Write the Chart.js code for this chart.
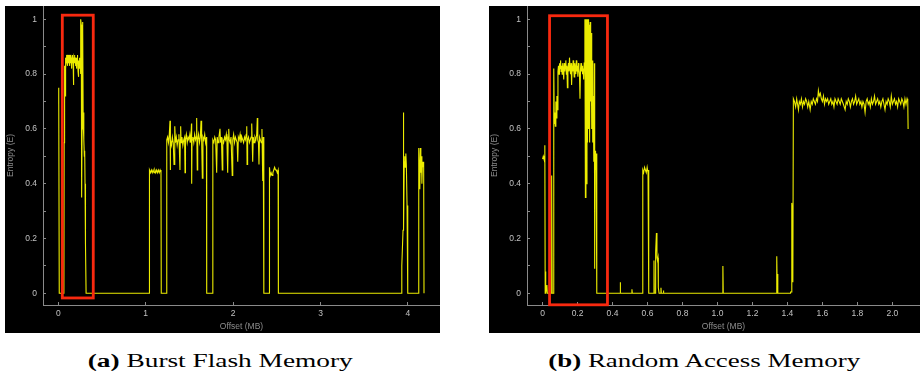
<!DOCTYPE html>
<html>
<head>
<meta charset="utf-8">
<script src="https://cdn.jsdelivr.net/npm/chart.js"></script>
<style>
  body { margin: 0; width: 920px; height: 375px; background: #fff; position: relative; overflow: hidden; }
  canvas { position: absolute; top: 6px; background: #000; }
  #flashChart { left: 5px; }
  #ramChart { left: 489px; }
  .cap { position: absolute; top: 352px; font-family: "Liberation Serif", "DejaVu Serif", serif; font-size: 18px; line-height: 18px; white-space: nowrap; color: #000; transform-origin: 50% 50%; }
  .cap b { font-weight: bold; }
</style>
</head>
<body>
<canvas id="flashChart" width="435" height="327"></canvas>
<canvas id="ramChart" width="431" height="327"></canvas>
<div class="cap" id="capA" data-cx="220.5" data-w="265"><b>(a)</b> Burst Flash Memory</div>
<div class="cap" id="capB" data-cx="704" data-w="312"><b>(b)</b> Random Access Memory</div>
<script>
// Burst Flash Memory: offset (MB) vs entropy
const flashOffset = [
  0, 0.002, 0.004, 0.006, 0.008, 0.011,
  0.064, 0.067, 0.069, 0.071, 0.073, 0.075, 0.077, 0.079, 0.082, 0.085,
  0.088, 0.091, 0.094, 0.097, 0.100, 0.103, 0.106, 0.109, 0.112, 0.115, 0.118, 0.121, 0.124, 0.127, 0.130, 0.133, 0.136, 0.139, 0.142, 0.145,
  0.148, 0.151, 0.154, 0.157, 0.160, 0.163, 0.166, 0.169, 0.172, 0.175, 0.178, 0.181, 0.184, 0.187, 0.190, 0.193, 0.196, 0.199, 0.202, 0.205,
  0.208, 0.211, 0.214, 0.217, 0.220, 0.223, 0.226, 0.229, 0.232, 0.235, 0.238, 0.241, 0.244, 0.247, 0.250, 0.253, 0.256,
  0.259, 0.263, 0.267, 0.272, 0.277, 0.281, 0.285, 0.290, 0.294, 0.298, 0.302, 0.306, 0.309, 0.313, 0.318,
  1.040, 1.043, 1.055, 1.065, 1.075, 1.085, 1.095, 1.105, 1.115, 1.125, 1.135, 1.145, 1.155, 1.165, 1.175, 1.178, 1.238,
  1.241, 1.250, 1.260, 1.270, 1.278, 1.280, 1.285, 1.295, 1.305, 1.315,
  1.324, 1.330, 1.335, 1.340, 1.350, 1.360, 1.370, 1.380, 1.392, 1.396,
  1.400, 1.405, 1.415, 1.425, 1.435, 1.445, 1.450, 1.455, 1.465, 1.475,
  1.485, 1.495, 1.505, 1.515, 1.524, 1.526, 1.530, 1.540, 1.550, 1.560,
  1.570, 1.578, 1.583, 1.590, 1.595, 1.605, 1.615, 1.625, 1.633, 1.640,
  1.648, 1.655, 1.665, 1.675, 1.685, 1.695, 1.698, 1.765,
  1.768, 1.780, 1.790, 1.800, 1.812, 1.818, 1.828, 1.838, 1.850, 1.856,
  1.866, 1.876, 1.882, 1.892, 1.902, 1.912, 1.922, 1.930, 1.938, 1.944,
  1.950, 1.956, 1.966, 1.976, 1.990, 1.996, 2.006, 2.016, 2.026, 2.036,
  2.046, 2.053, 2.060, 2.070, 2.080, 2.090, 2.100, 2.110, 2.120, 2.130,
  2.140, 2.150, 2.156, 2.160, 2.166, 2.176, 2.186, 2.196, 2.206, 2.213,
  2.218, 2.224, 2.230, 2.240, 2.250, 2.260, 2.270, 2.277, 2.282, 2.290,
  2.296, 2.302, 2.312, 2.322, 2.330, 2.339, 2.345, 2.350, 2.353, 2.413,
  2.416, 2.425, 2.435, 2.445, 2.455, 2.465, 2.475, 2.485, 2.495, 2.505, 2.515, 2.518,
  3.928, 3.930, 3.944, 3.948, 3.952, 3.958, 3.964, 3.970, 3.976, 3.982, 3.990, 3.996, 4.000,
  4.120, 4.124, 4.130, 4.136, 4.142, 4.148, 4.154, 4.160, 4.166, 4.172, 4.180, 4.184
];
const flashEntropy = [
  0.69, 0.75, 0.71, 0.74, 0.73, 0,
  0, 0.55, 0.63, 0.78, 0.66, 0.83, 0.72, 0.84, 0.80, 0.86,
  0.82, 0.86, 0.84, 0.87, 0.85, 0.86, 0.83, 0.87, 0.85, 0.86, 0.84, 0.87, 0.85, 0.86, 0.83, 0.87, 0.85, 0.86, 0.84, 0.87,
  0.86, 0.85, 0.82, 0.86, 0.84, 0.87, 0.85, 0.86, 0.80, 0.76, 0.84, 0.86, 0.85, 0.87, 0.84, 0.86, 0.85, 0.83, 0.86, 0.84,
  0.82, 0.86, 0.85, 0.87, 0.84, 0.86, 0.81, 0.85, 0.79, 0.84, 0.83, 0.86, 0.85, 0.82, 0.84, 0.80, 0.84,
  1.00, 0.98, 0.35, 0.60, 0.99, 0.97, 0.62, 0.66, 0.56, 0.50, 0.52, 0.40, 0.28, 0.18, 0,
  0, 0.45, 0.44, 0.45, 0.44, 0.45, 0.44, 0.45, 0.44, 0.45, 0.44, 0.45, 0.44, 0.45, 0.44, 0, 0,
  0.56, 0.57, 0.55, 0.58, 0.63, 0.45, 0.56, 0.54, 0.57, 0.55,
  0.47, 0.57, 0.61, 0.55, 0.57, 0.54, 0.56, 0.58, 0.45, 0.56,
  0.61, 0.55, 0.57, 0.54, 0.56, 0.57, 0.44, 0.56, 0.58, 0.55,
  0.57, 0.56, 0.58, 0.55, 0.62, 0.40, 0.56, 0.57, 0.55, 0.58,
  0.56, 0.57, 0.64, 0.45, 0.56, 0.58, 0.55, 0.57, 0.63, 0.56,
  0.42, 0.57, 0.56, 0.58, 0.55, 0.57, 0, 0,
  0.56, 0.55, 0.57, 0.56, 0.44, 0.57, 0.55, 0.57, 0.60, 0.55,
  0.57, 0.45, 0.56, 0.55, 0.57, 0.56, 0.58, 0.55, 0.44, 0.57,
  0.60, 0.56, 0.55, 0.57, 0.43, 0.56, 0.58, 0.55, 0.57, 0.56,
  0.55, 0.48, 0.57, 0.56, 0.58, 0.55, 0.57, 0.56, 0.55, 0.57,
  0.56, 0.58, 0.61, 0.47, 0.56, 0.57, 0.55, 0.56, 0.57, 0.62,
  0.56, 0.48, 0.57, 0.55, 0.57, 0.56, 0.58, 0.64, 0.56, 0.55,
  0.47, 0.57, 0.56, 0.55, 0.60, 0.41, 0.57, 0.56, 0, 0,
  0.46, 0.43, 0.44, 0.43, 0.44, 0.45, 0.46, 0.45, 0.45, 0.44, 0.45, 0,
  0, 0.10, 0.23, 0.66, 0.23, 0.48, 0.50, 0.46, 0.51, 0.47, 0.32, 0.30, 0,
  0, 0.53, 0.45, 0.38, 0.53, 0.44, 0.50, 0.40, 0.48, 0.46, 0.48, 0
];

// Random Access Memory: offset (MB) vs entropy
const ramOffset = [
  0, 0.004, 0.008, 0.011, 0.013, 0.015, 0.017, 0.019, 0.025, 0.027,
  0.050, 0.052, 0.055, 0.062, 0.064, 0.067, 0.070, 0.073, 0.076, 0.079,
  0.082, 0.085, 0.088, 0.091, 0.094, 0.097, 0.100, 0.103, 0.106, 0.109,
  0.112, 0.115, 0.118, 0.121, 0.124, 0.127, 0.130, 0.133, 0.136, 0.139,
  0.142, 0.145, 0.148, 0.151, 0.154, 0.157, 0.160, 0.163, 0.166, 0.169,
  0.172, 0.175, 0.178, 0.181, 0.184, 0.187, 0.190, 0.193, 0.196, 0.199,
  0.202, 0.205, 0.208, 0.211, 0.214, 0.217, 0.220, 0.223, 0.226, 0.229,
  0.232, 0.235, 0.238, 0.242, 0.245, 0.248, 0.251, 0.254, 0.257, 0.260,
  0.263, 0.266, 0.269, 0.272, 0.275, 0.278, 0.281, 0.284, 0.287, 0.290,
  0.293, 0.296, 0.298, 0.300, 0.303, 0.306, 0.309, 0.311, 0.443, 0.444,
  0.446, 0.510, 0.511, 0.513, 0.571, 0.573, 0.578, 0.583, 0.588, 0.593,
  0.598, 0.603, 0.606, 0.608, 0.636, 0.637, 0.639, 0.643, 0.645, 0.648,
  0.651, 0.654, 0.657, 0.660, 0.662, 0.666, 0.676, 0.677, 0.679, 0.690,
  0.691, 0.693, 1.030, 1.031, 1.033, 1.338, 1.339, 1.342, 1.344, 1.346,
  1.415, 1.418, 1.423, 1.425, 1.428, 1.431, 1.434, 1.440, 1.447, 1.453,
  1.458, 1.463, 1.468, 1.474, 1.480, 1.486, 1.492, 1.498, 1.504, 1.510,
  1.516, 1.522, 1.530, 1.536, 1.542, 1.548, 1.554, 1.560, 1.566, 1.572,
  1.577, 1.582, 1.588, 1.594, 1.600, 1.606, 1.612, 1.618, 1.624, 1.630,
  1.636, 1.642, 1.648, 1.654, 1.660, 1.666, 1.672, 1.678, 1.684, 1.690,
  1.696, 1.702, 1.708, 1.714, 1.720, 1.730, 1.736, 1.742, 1.748, 1.754,
  1.760, 1.766, 1.772, 1.778, 1.784, 1.790, 1.796, 1.802, 1.808, 1.814,
  1.820, 1.826, 1.832, 1.838, 1.844, 1.850, 1.856, 1.862, 1.868, 1.874,
  1.880, 1.886, 1.892, 1.898, 1.904, 1.910, 1.916, 1.922, 1.928, 1.934,
  1.940, 1.946, 1.952, 1.958, 1.964, 1.970, 1.976, 1.982, 1.988, 1.994,
  2.000, 2.006, 2.012, 2.018, 2.024, 2.030, 2.036, 2.042, 2.048, 2.054,
  2.060, 2.066, 2.072, 2.078, 2.084, 2.088, 2.090
];
const ramEntropy = [
  0.49, 0.50, 0.49, 0.50, 0.54, 0, 0.08, 0, 0.03, 0,
  0, 0.43, 0, 0, 0.82, 0.62, 0.66, 0.61, 0.70, 0.64,
  0.72, 0.67, 0.81, 0.83, 0.80, 0.84, 0.82, 0.85, 0.81, 0.83,
  0.80, 0.84, 0.82, 0.78, 0.84, 0.81, 0.83, 0.85, 0.80, 0.83,
  0.75, 0.82, 0.84, 0.81, 0.86, 0.82, 0.80, 0.84, 0.76, 0.83,
  0.81, 0.85, 0.82, 0.79, 0.84, 0.82, 0.80, 0.85, 0.81, 0.83,
  0.79, 0.84, 0.82, 0.80, 0.71, 0.82, 0.84, 0.81, 0.83, 0.80,
  0.82, 0.78, 0.84, 1.00, 0.35, 1.00, 0.40, 1.00, 0.55, 1.00,
  0.60, 0.98, 0.55, 0.99, 0.70, 0.95, 0.60, 0.85, 0.55, 0.72,
  0.48, 0.84, 0.09, 0.52, 0.45, 0.51, 0.46, 0, 0, 0.04,
  0, 0, 0.015, 0, 0, 0.45, 0.44, 0.46, 0.45, 0.44,
  0.46, 0.44, 0.45, 0, 0, 0.12, 0, 0, 0.10, 0.15,
  0.22, 0.13, 0.12, 0.13, 0.02, 0, 0, 0.02, 0, 0,
  0.01, 0, 0, 0.10, 0, 0, 0.135, 0, 0.07, 0,
  0, 0.005, 0.005, 0.33, 0.30, 0.04, 0.71, 0.70, 0.68, 0.71,
  0.69, 0.67, 0.70, 0.69, 0.71, 0.68, 0.70, 0.69, 0.71, 0.70,
  0.68, 0.70, 0.67, 0.70, 0.69, 0.71, 0.70, 0.69, 0.71, 0.70,
  0.74, 0.72, 0.73, 0.71, 0.70, 0.72, 0.69, 0.71, 0.70, 0.71,
  0.69, 0.70, 0.71, 0.69, 0.70, 0.68, 0.71, 0.70, 0.69, 0.71,
  0.70, 0.69, 0.71, 0.70, 0.69, 0.67, 0.70, 0.69, 0.71, 0.70,
  0.68, 0.70, 0.71, 0.69, 0.70, 0.72, 0.69, 0.70, 0.71, 0.69,
  0.70, 0.68, 0.70, 0.69, 0.66, 0.70, 0.71, 0.69, 0.70, 0.68,
  0.71, 0.69, 0.70, 0.72, 0.69, 0.70, 0.71, 0.69, 0.70, 0.68,
  0.70, 0.71, 0.69, 0.67, 0.70, 0.69, 0.71, 0.70, 0.68, 0.72,
  0.69, 0.70, 0.71, 0.69, 0.70, 0.68, 0.71, 0.70, 0.69, 0.71,
  0.70, 0.68, 0.71, 0.69, 0.71, 0.70, 0.60
];

// highlighted regions [xFrom, xTo, yFrom, yTo] in data units
const flashHighlight = [0.046, 0.400, -0.017, 1.015];
const ramHighlight = [0.040, 0.371, -0.042, 1.013];

// axis ranges
const flashXRange = [-0.175, 4.367];
const ramXRange = [-0.089, 2.158];
const entropyRange = [-0.0427, 1.0485];

const LINE = '#ecec00';
const AXIS = '#8a8a8a';
const TICK_TXT = '#c2c2c2';
const TITLE_TXT = '#8c8c8c';
const FONT = { family: '"Liberation Sans", Arial, sans-serif', size: 8.5 };

const highlightBox = {
  id: 'highlightBox',
  afterDatasetsDraw(chart, args, opts) {
    const { ctx, scales: { x, y } } = chart;
    const b = opts.box;
    const l = x.getPixelForValue(b[0]), r = x.getPixelForValue(b[1]);
    const t = y.getPixelForValue(b[3]), bt = y.getPixelForValue(b[2]);
    ctx.save();
    ctx.strokeStyle = '#f8290f';
    ctx.lineWidth = 2.8;
    ctx.strokeRect(l, t, r - l, bt - t);
    ctx.restore();
  }
};

function makeChart(id, xs, ys, xRange, xStep, box, yAxisWidth) {
  const pts = xs.map((v, i) => ({ x: v, y: ys[i] }));
  return new Chart(document.getElementById(id), {
    type: 'line',
    data: {
      datasets: [{
        data: pts,
        borderColor: LINE,
        borderWidth: 1.1,
        pointRadius: 0,
        tension: 0,
        fill: false
      }]
    },
    options: {
      responsive: false,
      animation: false,
      devicePixelRatio: 1,
      layout: { padding: 0 },
      plugins: { legend: { display: false }, tooltip: { enabled: false }, highlightBox: { box: box } },
      scales: {
        x: {
          type: 'linear',
          min: xRange[0], max: xRange[1],
          border: { color: AXIS, width: 1 },
          grid: { drawOnChartArea: false, tickLength: -3, color: AXIS },
          ticks: { stepSize: xStep, includeBounds: false, autoSkip: false, maxRotation: 0, color: TICK_TXT, font: FONT, padding: 7 },
          title: { display: true, text: 'Offset (MB)', color: TITLE_TXT, font: FONT, padding: { top: 0, bottom: 1 } },
          afterFit(s) { s.height = 28; s.paddingLeft = 0; s.paddingRight = 0; }
        },
        y: {
          type: 'linear',
          min: entropyRange[0], max: entropyRange[1],
          border: { color: AXIS, width: 1 },
          grid: { drawOnChartArea: false, tickLength: -3, color: AXIS },
          ticks: {
            stepSize: 0.1, includeBounds: false, autoSkip: false, color: TICK_TXT, font: FONT, padding: 9,
            callback: v => { const r = Math.round(v * 10); return r % 2 === 0 ? String(r / 10) : ''; }
          },
          title: { display: true, text: 'Entropy (E)', color: TITLE_TXT, font: FONT, padding: { top: 1, bottom: 0 } },
          afterFit(s) { s.width = yAxisWidth; s.paddingTop = 0; s.paddingBottom = 0; }
        }
      }
    },
    plugins: [highlightBox]
  });
}

makeChart('flashChart', flashOffset, flashEntropy, flashXRange, 1, flashHighlight, 38);
makeChart('ramChart', ramOffset, ramEntropy, ramXRange, 0.2, ramHighlight, 38);

// stretch captions to the width they take in the figure
document.querySelectorAll('.cap').forEach(el => {
  const w = el.getBoundingClientRect().width;
  const k = parseFloat(el.dataset.w) / w;
  el.style.left = (parseFloat(el.dataset.cx) - w / 2) + 'px';
  el.style.transform = 'scaleX(' + k + ')';
});
</script>
</body>
</html>
